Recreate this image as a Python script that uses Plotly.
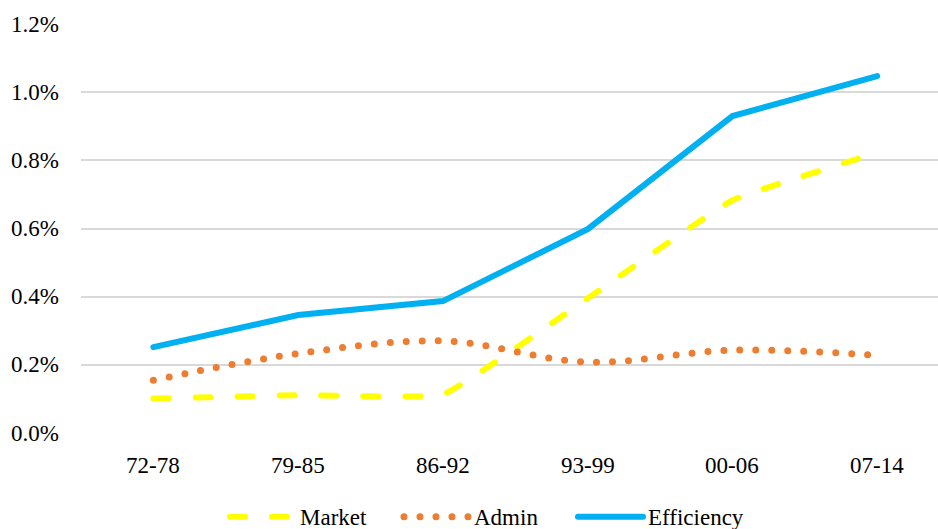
import plotly.graph_objects as go

categories = ["72-78", "79-85", "86-92", "93-99", "00-06", "07-14"]
market = [0.00101, 0.00111, 0.00113, 0.00395, 0.00683, 0.00822]
admin = [0.00155, 0.00233, 0.00270, 0.00208, 0.00243, 0.00228]
efficiency = [0.00252, 0.00346, 0.00387, 0.00598, 0.00930, 0.01047]
series_names = ["Market", "Admin", "Efficiency"]
y_tick_values = [0.0, 0.002, 0.004, 0.006, 0.008, 0.010, 0.012]
y_tick_labels = ["0.0%", "0.2%", "0.4%", "0.6%", "0.8%", "1.0%", "1.2%"]

FAM = "Times New Roman"
TXT = dict(family=FAM, size=23, color="#000000")

fig = go.Figure()
fig.add_trace(go.Scatter(x=categories, y=market, name=series_names[0], mode="lines",
                         line=dict(color="#ffff00", width=6, dash="15px,27px", shape="spline", smoothing=0.3)))
fig.add_trace(go.Scatter(x=categories, y=admin, name=series_names[1], mode="lines",
                         line=dict(color="#ed7d31", width=7, dash="0px,16px", shape="spline", smoothing=1)))
fig.add_trace(go.Scatter(x=categories, y=efficiency, name=series_names[2], mode="lines",
                         line=dict(color="#00b0f0", width=6)))

# tick labels as text annotations (serif rendering)
for c in categories:
    fig.add_annotation(x=c, xref="x", y=-0.08, yref="paper", yanchor="middle", xanchor="center",
                       showarrow=False, text=c, font=TXT)
for v, lab in zip(y_tick_values, y_tick_labels):
    fig.add_annotation(x=0, xref="paper", xanchor="right", xshift=-20, y=v, yref="y", yanchor="middle",
                       showarrow=False, text=lab, font=TXT)
# legend labels
for name, lx in zip(series_names, [0.2532, 0.4562, 0.6593]):
    fig.add_annotation(x=lx, xref="paper", xanchor="left", y=-0.2054, yref="paper", yanchor="middle",
                       showarrow=False, text=name, font=TXT)

fig.update_layout(
    width=938, height=529,
    margin=dict(l=81, r=0, t=24, b=96, autoexpand=False),
    paper_bgcolor="white", plot_bgcolor="white",
    showlegend=True,
    legend=dict(orientation="h", x=0.168, xanchor="left", y=-0.205, yanchor="middle",
                font=dict(family=FAM, size=23, color="rgba(0,0,0,0)"),
                itemwidth=65, entrywidth=94, entrywidthmode="pixels",
                bgcolor="rgba(0,0,0,0)"),
    xaxis=dict(type="category", range=[-0.5, 5.42], showgrid=False, zeroline=False,
               showline=False, ticks="", showticklabels=False),
    yaxis=dict(range=[0, 0.012], tickvals=y_tick_values, showgrid=True,
               gridcolor="#d9d9d9", gridwidth=1.5, zeroline=False, showline=False,
               ticks="", showticklabels=False),
)

post = """
var s=document.createElement('style');
s.innerHTML='.js-line{stroke-linecap:round !important;}';
document.head.appendChild(s);
"""
fig.write_html("out.html", post_script=post)
